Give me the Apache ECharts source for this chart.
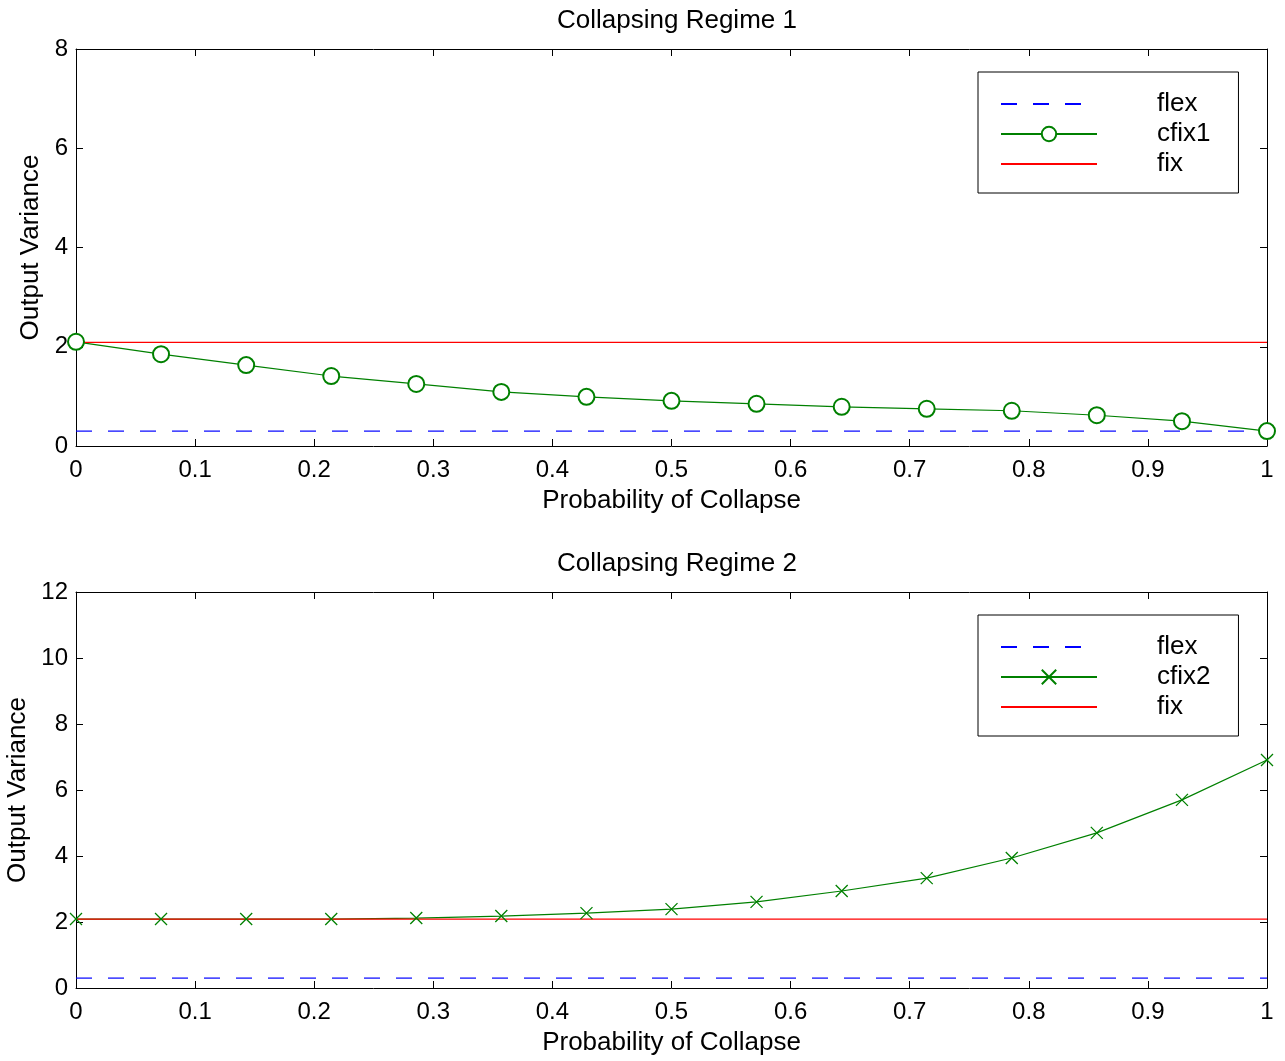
<!DOCTYPE html>
<html>
<head>
<meta charset="utf-8">
<script src="https://cdn.jsdelivr.net/npm/echarts@6/dist/echarts.min.js"></script>
<style>
    html, body { margin: 0; padding: 0; background: #fff; }
    #container { width: 1285px; height: 1061px; }
</style>
</head>
<body>
<div id="container"></div>
<script type="text/javascript">
    // probability of collapse
    var probs = [0, 0.0714, 0.1429, 0.2143, 0.2857, 0.3571, 0.4286, 0.5, 0.5714, 0.6429, 0.7143, 0.7857, 0.8571, 0.9286, 1];
    var xTicks = [0, 0.1, 0.2, 0.3, 0.4, 0.5, 0.6, 0.7, 0.8, 0.9, 1];

    // regime 1
    var cfix1 = [2.10, 1.85, 1.63, 1.41, 1.25, 1.09, 0.99, 0.91, 0.85, 0.79, 0.75, 0.71, 0.62, 0.50, 0.30];
    var flex1 = [0.30, 0.30];
    var fix1 = [2.09, 2.09];

    // regime 2
    var cfix2 = [2.09, 2.09, 2.09, 2.09, 2.12, 2.18, 2.27, 2.39, 2.61, 2.94, 3.33, 3.94, 4.70, 5.70, 6.91];
    var flex2 = [0.30, 0.30];
    var fix2 = [2.09, 2.09];

    var ends = [0, 1];
    var FONT = 'Liberation Sans, Arial, Helvetica, sans-serif';

    function pairs(xs, ys) {
        return ys.map(function (y, i) { return [xs[i], y]; });
    }

    var dom = document.getElementById("container");
    var myChart = echarts.init(dom);

    function mkX(grid, pos, show) {
        return {
            type: 'value', gridIndex: grid, position: pos, min: 0, max: 1, interval: 0.1,
            name: show ? 'Probability of Collapse' : '', nameLocation: 'middle', nameGap: 42,
            nameTextStyle: {fontFamily: FONT, fontSize: 26, color: '#000'},
            axisLine: {show: true, onZero: false, lineStyle: {color: '#000', width: 1}},
            axisTick: {show: true, inside: true, length: 7, lineStyle: {color: '#000'}},
            axisLabel: {show: show, fontFamily: FONT, fontSize: 24, color: '#000', margin: 12,
                formatter: function (v) { return String(Math.round(v * 10) / 10); }},
            splitLine: {show: false}
        };
    }
    function mkY(grid, pos, max, show, gap) {
        return {
            type: 'value', gridIndex: grid, position: pos, min: 0, max: max, interval: 2,
            name: show ? 'Output Variance' : '', nameLocation: 'middle', nameGap: gap,
            nameTextStyle: {fontFamily: FONT, fontSize: 26, color: '#000'},
            axisLine: {show: true, onZero: false, lineStyle: {color: '#000', width: 1}},
            axisTick: {show: true, inside: true, length: 7, lineStyle: {color: '#000'}},
            axisLabel: {show: show, fontFamily: FONT, fontSize: 24, color: '#000', margin: 8},
            splitLine: {show: false}
        };
    }

    var crossPath = 'path://M0,0L10,10M10,0L0,10';
    var noMark = {color: 'transparent', borderColor: 'transparent', borderWidth: 0};

    function legendBox(top, cname) {
        return {
            orient: 'vertical', left: 978, top: top,
            data: [
                {name: 'flex', itemStyle: noMark},
                {name: cname},
                {name: 'fix', itemStyle: noMark}
            ],
            backgroundColor: '#fff', borderColor: '#000', borderWidth: 1,
            padding: [19, 28, 16, 22], itemGap: 4, itemWidth: 96, itemHeight: 18,
            textStyle: {fontFamily: FONT, fontSize: 26, color: '#000', padding: [0, 0, 0, 55]},
            selectedMode: false
        };
    }

    var option = {
        animation: false,
        title: [
            {text: 'Collapsing Regime 1', left: 672, top: 3, textAlign: 'center',
             textStyle: {fontFamily: FONT, fontSize: 26, fontWeight: 'normal', color: '#000'}},
            {text: 'Collapsing Regime 2', left: 672, top: 546, textAlign: 'center',
             textStyle: {fontFamily: FONT, fontSize: 26, fontWeight: 'normal', color: '#000'}}
        ],
        legend: [
            legendBox(72, 'cfix1'),
            legendBox(615, 'cfix2')
        ],
        grid: [
            {left: 76, top: 49, width: 1191, height: 397, outerBoundsMode: 'none', containLabel: false},
            {left: 76, top: 592, width: 1191, height: 396, outerBoundsMode: 'none', containLabel: false}
        ],
        xAxis: [mkX(0, 'bottom', true), mkX(0, 'top', false), mkX(1, 'bottom', true), mkX(1, 'top', false)],
        yAxis: [mkY(0, 'left', 8, true, 29), mkY(0, 'right', 8, false, 0), mkY(1, 'left', 12, true, 43), mkY(1, 'right', 12, false, 0)],
        series: [
            {name: 'flex', type: 'line', xAxisIndex: 0, yAxisIndex: 0, data: pairs(ends, flex1),
             symbol: 'none', lineStyle: {color: '#0000ff', width: 1.2, type: [16, 16]}, itemStyle: {color: '#0000ff'}},
            {name: 'cfix1', type: 'line', xAxisIndex: 0, yAxisIndex: 0, data: pairs(probs, cfix1),
             symbol: 'emptyCircle', symbolSize: 16, showAllSymbol: true, clip: false,
             lineStyle: {color: '#008000', width: 1.2}, itemStyle: {color: '#008000', borderWidth: 1.3}},
            {name: 'fix', type: 'line', xAxisIndex: 0, yAxisIndex: 0, data: pairs(ends, fix1),
             symbol: 'none', lineStyle: {color: '#ff0000', width: 1.2}, itemStyle: {color: '#ff0000'}},

            {name: 'flex', type: 'line', xAxisIndex: 2, yAxisIndex: 2, data: pairs(ends, flex2),
             symbol: 'none', lineStyle: {color: '#0000ff', width: 1.2, type: [16, 16]}, itemStyle: {color: '#0000ff'}},
            {name: 'cfix2', type: 'line', xAxisIndex: 2, yAxisIndex: 2, data: pairs(probs, cfix2),
             symbol: crossPath, symbolSize: 12, showAllSymbol: true, clip: false,
             lineStyle: {color: '#008000', width: 1.2}, itemStyle: {color: 'none', borderColor: '#008000', borderWidth: 1.3}},
            {name: 'fix', type: 'line', xAxisIndex: 2, yAxisIndex: 2, data: pairs(ends, fix2),
             symbol: 'none', lineStyle: {color: '#ff0000', width: 1.2}, itemStyle: {color: '#ff0000'}}
        ]
    };
    if (option && typeof option === "object") {
        myChart.setOption(option, true);
    }
</script>
</body>
</html>
